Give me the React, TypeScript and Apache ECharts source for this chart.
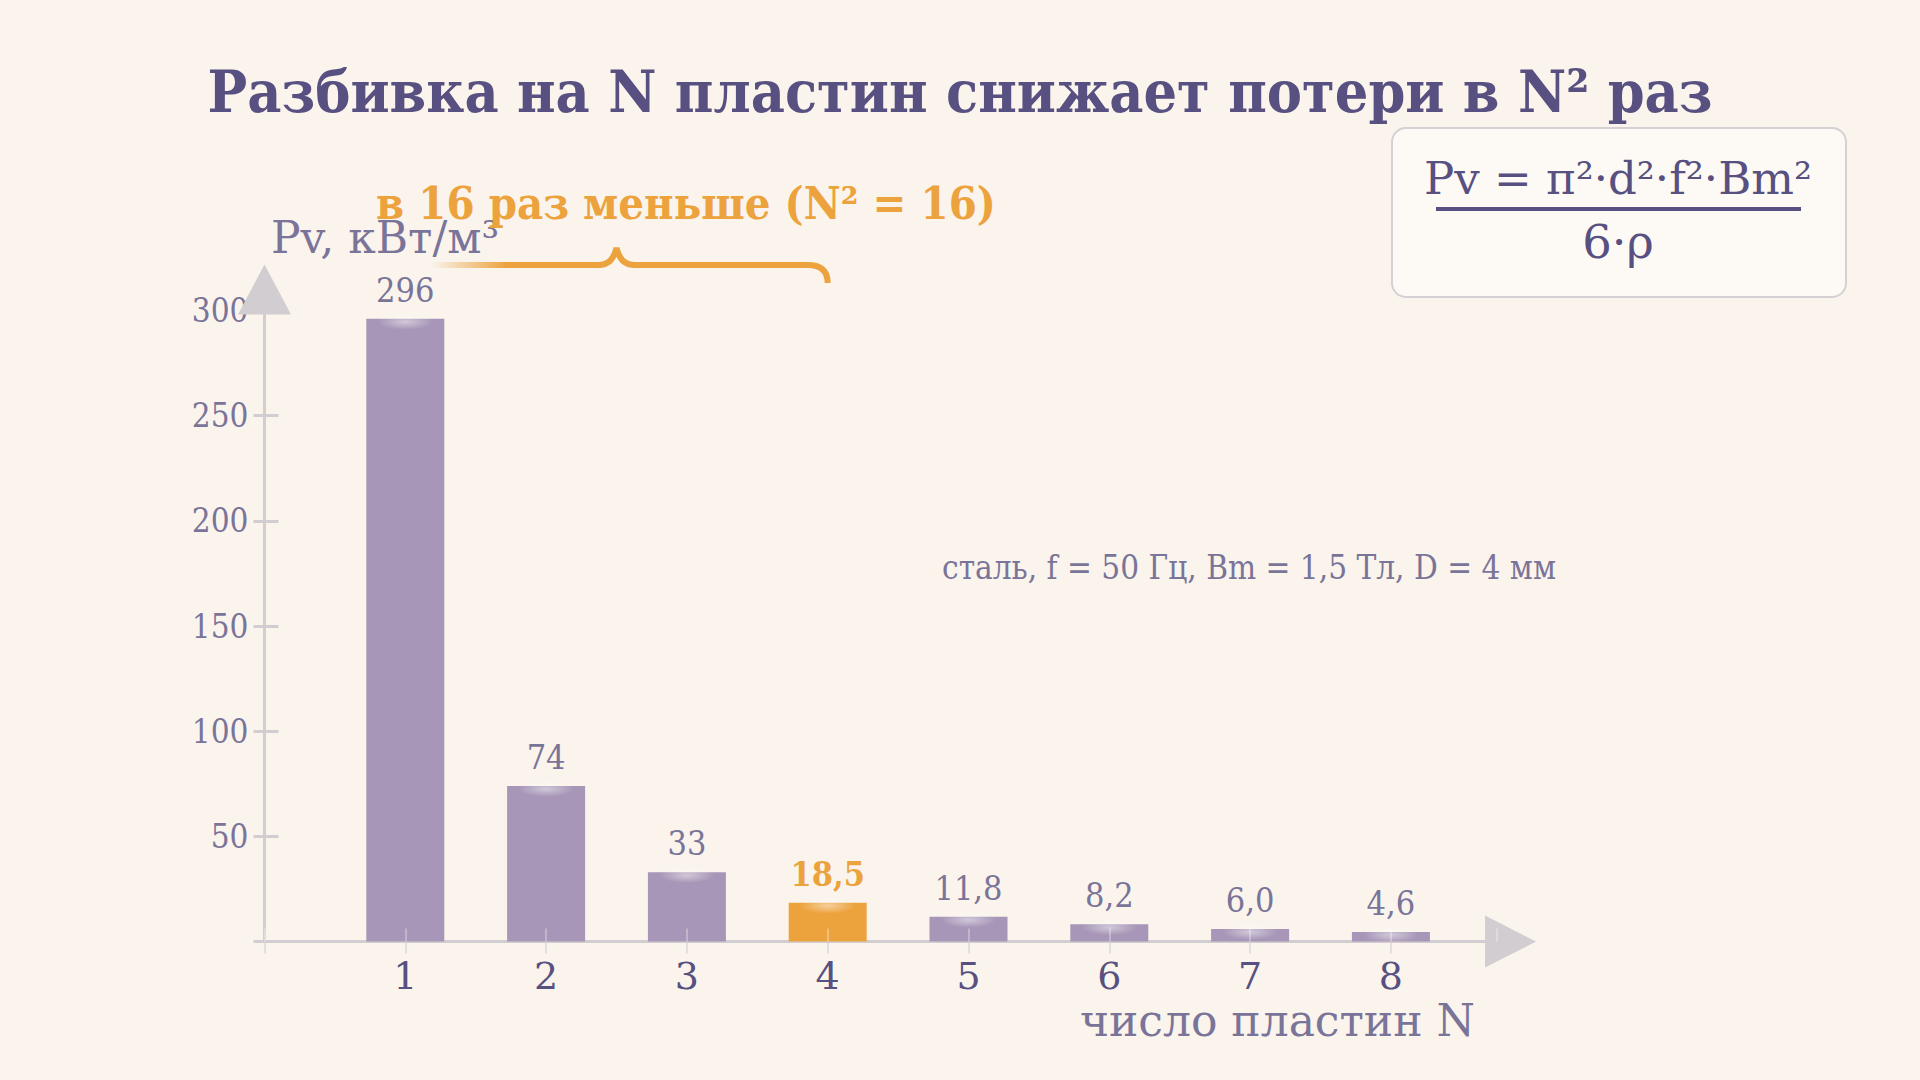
import { useEffect, useRef } from 'react'
import * as echarts from 'echarts'

// данные: потери на вихревые токи в зависимости от числа пластин
const plates = [1, 2, 3, 4, 5, 6, 7, 8]
const losses = [296, 74, 33, 18.5, 11.8, 8.2, 6.0, 4.6]
const lossLabels = ['296', '74', '33', '18,5', '11,8', '8,2', '6,0', '4,6']
const yTicks = [50, 100, 150, 200, 250, 300]
const highlightIndex = 3

const titleText = 'Разбивка на N пластин снижает потери в N² раз'
const braceText = 'в 16 раз меньше (N² = 16)'
const yName = 'Pv, кВт/м³'
const xName = 'число пластин N'
const paramsText = 'сталь, f = 50 Гц, Bm = 1,5 Тл, D = 4 мм'
const formulaTop = 'Pv = π²·d²·f²·Bm²'
const formulaBottom = '6·ρ'

const FONT = "'DejaVu Serif', serif"
const NARROW = "'DejaVu Serif Condensed', 'DejaVu Serif', serif"
const BG = '#faf4ed'
const DARK = '#575080'
const MUTED = '#7b7499'
const PURPLE = '#a796b7'
const ORANGE = '#eca33e'
const AXIS = '#d2cdd1'

const App = () => {
  const ref = useRef<HTMLDivElement | null>(null)

  useEffect(() => {
    if (!ref.current) return
    const chart = echarts.init(ref.current, null, { renderer: 'svg' })

    const barData = plates.map((p, i) => ({
      value: [p, losses[i]],
      itemStyle: { color: i === highlightIndex ? ORANGE : PURPLE },
      label: i === highlightIndex ? { color: ORANGE, fontWeight: 'bold' } : undefined
    }))

    const valueAxisX = {
      type: 'value',
      min: 0,
      max: 8.75,
      interval: 1,
      splitLine: { show: false }
    }
    const valueAxisY = {
      type: 'value',
      min: 0,
      max: 300,
      interval: 50,
      splitLine: { show: false }
    }

    chart.setOption({
      animation: false,
      backgroundColor: BG,
      textStyle: { fontFamily: FONT },
      grid: { left: 264.5, right: 423.5, top: 310.4, bottom: 138.4 },
      xAxis: [
        {
          ...valueAxisX,
          position: 'bottom',
          axisLine: {
            lineStyle: { color: AXIS, width: 3 },
            symbol: ['none', 'triangle'],
            symbolSize: [52, 51],
            symbolOffset: [0, 14]
          },
          axisTick: { show: true, length: 12, lineStyle: { color: 'rgba(214,207,214,0.6)', width: 2 } },
          axisLabel: {
            color: DARK,
            fontSize: 38,
            fontFamily: FONT,
            margin: 15,
            formatter: (v: number) => (plates.includes(v) ? String(v) : '')
          }
        },
        {
          ...valueAxisX,
          position: 'bottom',
          z: 5,
          axisLine: { show: false },
          axisTick: { show: true, inside: true, length: 13, lineStyle: { color: 'rgba(255,255,255,0.3)', width: 2 } },
          axisLabel: { show: false }
        }
      ],
      yAxis: [
        {
          ...valueAxisY,
          position: 'left',
          axisLine: {
            show: true,
            lineStyle: { color: AXIS, width: 3 },
            symbol: ['none', 'triangle'],
            symbolSize: [53, 50],
            symbolOffset: [0, 21]
          },
          axisTick: { show: true, length: 11, lineStyle: { color: AXIS, width: 3 } },
          axisLabel: {
            color: MUTED,
            fontSize: 33,
            fontFamily: NARROW,
            margin: 16,
            formatter: (v: number) => (yTicks.includes(v) ? String(v) : '')
          }
        },
        {
          ...valueAxisY,
          position: 'left',
          axisLine: { show: false },
          axisTick: { show: true, inside: true, length: 14, lineStyle: { color: AXIS, width: 3 } },
          axisLabel: { show: false }
        }
      ],
      series: [
        {
          type: 'bar',
          xAxisIndex: 0,
          yAxisIndex: 0,
          barWidth: 78,
          data: barData,
          label: {
            show: true,
            position: 'top',
            distance: 12,
            color: MUTED,
            fontSize: 34,
            fontFamily: NARROW,
            formatter: (p: any) => lossLabels[p.dataIndex]
          }
        },
        {
          // блик на верхнем торце столбика
          type: 'scatter',
          xAxisIndex: 0,
          yAxisIndex: 0,
          silent: true,
          symbol: 'circle',
          symbolSize: [56, 16],
          symbolOffset: [0, 3],
          itemStyle: {
            color: new echarts.graphic.RadialGradient(0.5, 0.5, 0.5, [
              { offset: 0, color: 'rgba(255,255,255,0.6)' },
              { offset: 1, color: 'rgba(255,255,255,0)' }
            ])
          },
          data: plates.map((p, i) => [p, losses[i]])
        }
      ]
    })

    // фигурная скобка от 1-го до 4-го столбика
    const x1 = chart.convertToPixel({ xAxisIndex: 0, yAxisIndex: 0 }, [plates[0], losses[0]])[0]
    const x4 = chart.convertToPixel({ xAxisIndex: 0, yAxisIndex: 0 }, [plates[highlightIndex], losses[highlightIndex]])[0]
    const xm = (x1 + x4) / 2
    const by = 265
    const d = `M${x1},${by + 18} Q${x1},${by} ${x1 + 20},${by} L${xm - 18},${by} Q${xm - 4},${by} ${xm},${by - 17} Q${xm + 4},${by} ${xm + 18},${by} L${x4 - 20},${by} Q${x4},${by} ${x4},${by + 18}`
    echarts.graphic.registerShape('brace', echarts.graphic.extendPath(d, {}))

    chart.setOption({
      graphic: [
        {
          type: 'text',
          x: 960,
          y: 91,
          style: { text: titleText, font: `bold 58.7px ${NARROW}`, fill: DARK, align: 'center', verticalAlign: 'middle' }
        },
        {
          type: 'brace',
          x: 0,
          y: 0,
          silent: true,
          style: {
            fill: 'none',
            lineWidth: 6,
            stroke: new echarts.graphic.LinearGradient(0, 0, 1, 0, [
              { offset: 0, color: 'rgba(236,163,62,0)' },
              { offset: 0.06, color: 'rgba(236,163,62,0)' },
              { offset: 0.24, color: ORANGE },
              { offset: 1, color: ORANGE }
            ])
          }
        },
        {
          type: 'text',
          x: 271,
          y: 237,
          style: { text: yName, font: `44px ${FONT}`, fill: MUTED, align: 'left', verticalAlign: 'middle' }
        },
        {
          type: 'text',
          x: 376,
          y: 203,
          style: { text: braceText, font: `bold 45px ${NARROW}`, fill: ORANGE, align: 'left', verticalAlign: 'middle' }
        },
        {
          type: 'text',
          x: 942,
          y: 567,
          style: { text: paramsText, font: `33px ${NARROW}`, fill: MUTED, align: 'left', verticalAlign: 'middle' }
        },
        {
          type: 'text',
          x: 1475,
          y: 1020,
          style: { text: xName, font: `44px ${FONT}`, fill: MUTED, align: 'right', verticalAlign: 'middle' }
        },
        {
          type: 'rect',
          shape: { x: 1392, y: 128, width: 454, height: 169, r: 14 },
          style: { fill: '#fdfaf5', stroke: '#d4d0d3', lineWidth: 2 }
        },
        {
          type: 'text',
          x: 1618,
          y: 178,
          style: { text: formulaTop, font: `45px ${FONT}`, fill: DARK, align: 'center', verticalAlign: 'middle' }
        },
        {
          type: 'line',
          shape: { x1: 1436, y1: 209, x2: 1801, y2: 209 },
          style: { stroke: DARK, lineWidth: 4 }
        },
        {
          type: 'text',
          x: 1618,
          y: 242,
          style: { text: formulaBottom, font: `46.5px ${FONT}`, fill: DARK, align: 'center', verticalAlign: 'middle' }
        }
      ]
    })

    return () => {
      chart.dispose()
    }
  }, [])

  return (
    <div style={{ position: 'fixed', left: 0, top: 0, width: 1920, height: 1080, background: BG }}>
      <div ref={ref} style={{ width: 1920, height: 1080 }} />
    </div>
  )
}

export default App
